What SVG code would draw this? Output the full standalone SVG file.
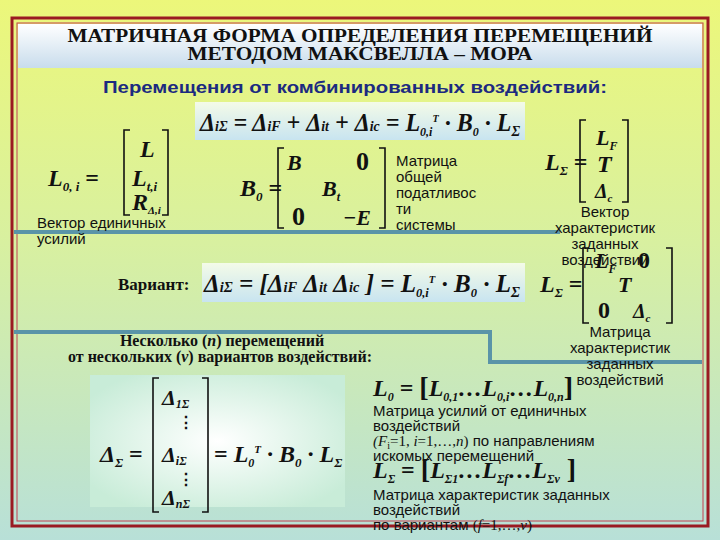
<svg xmlns="http://www.w3.org/2000/svg" width="720" height="540" viewBox="0 0 720 540">
<defs>
<linearGradient id="bg" x1="0" y1="0" x2="0" y2="1"><stop offset="0" stop-color="#ecf77a"/><stop offset="0.45" stop-color="#d8f0a0"/><stop offset="1" stop-color="#b8e0d8"/></linearGradient>
<linearGradient id="tb" x1="0" y1="0" x2="0" y2="1"><stop offset="0" stop-color="#ffffff"/><stop offset="1" stop-color="#c8dcec"/></linearGradient>
<linearGradient id="fb" x1="0" y1="0" x2="0" y2="1"><stop offset="0" stop-color="#f4fbe8"/><stop offset="1" stop-color="#c8e4f0"/></linearGradient>
<radialGradient id="fb3" cx="0.5" cy="0.5" r="0.6"><stop offset="0" stop-color="#ffffff"/><stop offset="1" stop-color="#c8ecd8"/></radialGradient>
<style>
.m{font-family:Liberation Serif,serif;font-weight:bold;font-style:italic;fill:#111}
.r{font-family:Liberation Serif,serif;font-weight:bold;fill:#111}
.s{font-family:Liberation Sans,Arial,sans-serif;font-size:15px;fill:#111}
.br{fill:none;stroke:#111;stroke-width:1.6}
.ln{fill:none;stroke:#5a94a8;stroke-width:4}
</style>
</defs>
<rect width="720" height="540" fill="url(#bg)"/>
<rect x="12" y="18" width="696" height="508" fill="none" stroke="#9a1a22" stroke-width="3"/>
<rect x="17" y="23" width="686" height="498" fill="none" stroke="#c04050" stroke-width="1"/>
<rect x="18" y="24" width="684" height="44" fill="url(#tb)"/>
<g id="title">
<text class="r" x="360" y="42" font-size="19" text-anchor="middle" textLength="585" lengthAdjust="spacingAndGlyphs">МАТРИЧНАЯ ФОРМА ОПРЕДЕЛЕНИЯ ПЕРЕМЕЩЕНИЙ</text>
<text class="r" x="360" y="60" font-size="19" text-anchor="middle" textLength="345" lengthAdjust="spacingAndGlyphs">МЕТОДОМ МАКСВЕЛЛА – МОРА</text>
<text x="355" y="93" font-family="Liberation Sans,Arial,sans-serif" font-weight="bold" font-size="16" fill="#1c2a80" text-anchor="middle" textLength="504" lengthAdjust="spacingAndGlyphs">Перемещения от комбинированных воздействий:</text>
</g>
<g id="connectors">
<path class="ln" d="M14 232 H560"/>
<path class="ln" d="M14 332 H490 V362 H702"/>
</g>
<g id="f1">
<rect x="195" y="102" width="330" height="38" fill="url(#fb)"/>
<text class="m" x="200" y="131" font-size="26" textLength="320" lengthAdjust="spacingAndGlyphs">Δ<tspan font-size="15">iΣ</tspan> = Δ<tspan font-size="15">iF</tspan> + Δ<tspan font-size="15">it</tspan> + Δ<tspan font-size="15">ic</tspan> = L<tspan font-size="13" dy="5">0,i</tspan><tspan font-size="11" dy="-14">T</tspan><tspan dy="9"> · B</tspan><tspan font-size="13" dy="5">0</tspan><tspan dy="-5"> · L</tspan><tspan font-size="15" dy="5">Σ</tspan></text>
</g>
<g id="L0i">
<text class="m" x="48" y="186" font-size="24">L<tspan font-size="13" dy="5">0, i</tspan><tspan dy="-5" font-style="normal"> =</tspan></text>
<path class="br" d="M130 130 h-6 v85 h6 M162 130 h6 v85 h-6"/>
<text class="m" x="140" y="157" font-size="24">L</text>
<text class="m" x="132" y="186" font-size="24">L<tspan font-size="13" dy="5">t,i</tspan></text>
<text class="m" x="132" y="210" font-size="24">R<tspan font-size="11" dy="4">Δ,i</tspan></text>
<text class="s" x="37" y="228">Вектор единичных</text>
<text class="s" x="37" y="244">усилий</text>
</g>
<g id="B0">
<text class="m" x="240" y="196" font-size="24">B<tspan font-size="13" dy="5">0</tspan><tspan dy="-5" font-style="normal"> =</tspan></text>
<path class="br" d="M284 148 h-6 v80 h6 M379 148 h6 v80 h-6"/>
<text class="m" x="287" y="170" font-size="22">B</text>
<text class="r" x="356" y="170" font-size="26">0</text>
<text class="m" x="322" y="196" font-size="22">B<tspan font-size="12" dy="5">t</tspan></text>
<text class="r" x="292" y="225" font-size="26">0</text>
<text class="m" x="343" y="225" font-size="22">−E</text>
<text class="s" x="396" y="166">Матрица</text>
<text class="s" x="396" y="182">общей</text>
<text class="s" x="396" y="198">податливос</text>
<text class="s" x="396" y="214">ти</text>
<text class="s" x="396" y="230">системы</text>
</g>
<g id="LS1">
<text class="m" x="545" y="170" font-size="24">L<tspan font-size="13" dy="5">Σ</tspan><tspan dy="-5" font-style="normal"> =</tspan></text>
<path class="br" d="M586 120 h-6 v82 h6 M622 120 h6 v82 h-6"/>
<text class="m" x="596" y="145" font-size="22">L<tspan font-size="12" dy="5">F</tspan></text>
<text class="m" x="597" y="172" font-size="24">T</text>
<text class="m" x="595" y="198" font-size="20">Δ<tspan font-size="11" dy="4">c</tspan></text>
<text class="s" x="605" y="217" text-anchor="middle">Вектор</text>
<text class="s" x="605" y="233" text-anchor="middle">характеристик</text>
<text class="s" x="605" y="249" text-anchor="middle">заданных</text>
<text class="s" x="605" y="265" text-anchor="middle">воздействий</text>
</g>
<g id="f2">
<text class="r" x="118" y="290" font-size="17">Вариант:</text>
<rect x="202" y="263" width="323" height="39" fill="url(#fb)"/>
<text class="m" x="204" y="292" font-size="26" textLength="316" lengthAdjust="spacingAndGlyphs">Δ<tspan font-size="15">iΣ</tspan> = [Δ<tspan font-size="15">iF</tspan> Δ<tspan font-size="15">it</tspan> Δ<tspan font-size="15">ic</tspan> ] = L<tspan font-size="13" dy="5">0,i</tspan><tspan font-size="11" dy="-14">T</tspan><tspan dy="9"> · B</tspan><tspan font-size="13" dy="5">0</tspan><tspan dy="-5"> · L</tspan><tspan font-size="15" dy="5">Σ</tspan></text>
</g>
<g id="LS2">
<text class="m" x="540" y="292" font-size="24">L<tspan font-size="13" dy="5">Σ</tspan><tspan dy="-5" font-style="normal"> =</tspan></text>
<path class="br" d="M589 248 h-6 v75 h6 M666 248 h6 v75 h-6"/>
<text class="m" x="595" y="268" font-size="22">L<tspan font-size="12" dy="5">F</tspan></text>
<text class="r" x="638" y="268" font-size="24">0</text>
<text class="m" x="618" y="292" font-size="22">T</text>
<text class="r" x="598" y="318" font-size="24">0</text>
<text class="m" x="633" y="318" font-size="20">Δ<tspan font-size="11" dy="4">c</tspan></text>
<text class="s" x="620" y="337" text-anchor="middle">Матрица</text>
<text class="s" x="620" y="353" text-anchor="middle">характеристик</text>
<text class="s" x="620" y="369" text-anchor="middle">заданных</text>
<text class="s" x="620" y="385" text-anchor="middle">воздействий</text>
</g>
<g id="multi">
<text class="r" x="222" y="346" font-size="16" text-anchor="middle">Несколько (<tspan font-style="italic">n</tspan>) перемещений</text>
<text class="r" x="220" y="362" font-size="16" text-anchor="middle">от нескольких (<tspan font-style="italic">v</tspan>) вариантов воздействий:</text>
<rect x="90" y="375" width="255" height="132" fill="url(#fb3)"/>
<text class="m" x="100" y="462" font-size="24">Δ<tspan font-size="13" dy="5">Σ</tspan><tspan dy="-5" font-style="normal"> =</tspan></text>
<path class="br" d="M159 378 h-6 v134 h6 M202 378 h6 v134 h-6"/>
<text class="m" x="162" y="405" font-size="22">Δ<tspan font-size="12" dy="3">1Σ</tspan></text>
<text class="r" x="178" y="428" font-size="16">⋮</text>
<text class="m" x="162" y="462" font-size="22">Δ<tspan font-size="12" dy="3">iΣ</tspan></text>
<text class="r" x="178" y="485" font-size="16">⋮</text>
<text class="m" x="162" y="505" font-size="22">Δ<tspan font-size="12" dy="3">nΣ</tspan></text>
<text class="m" x="214" y="462" font-size="24"><tspan font-style="normal">= </tspan>L<tspan font-size="12" dy="5">0</tspan><tspan font-size="11" dy="-14">T</tspan><tspan dy="9"> · B</tspan><tspan font-size="13" dy="5">0</tspan><tspan dy="-5"> · L</tspan><tspan font-size="13" dy="5">Σ</tspan></text>
</g>
<g id="L0">
<text class="m" x="373" y="396" font-size="24">L<tspan font-size="12" dy="5">0</tspan><tspan dy="-5" font-style="normal"> = </tspan><tspan font-style="normal" font-size="28">[</tspan>L<tspan font-size="12" dy="5">0,1</tspan><tspan dy="-5">…L</tspan><tspan font-size="12" dy="5">0,i</tspan><tspan dy="-5">…L</tspan><tspan font-size="12" dy="5">0,n</tspan><tspan dy="-5" font-style="normal" font-size="28">]</tspan></text>
<text class="s" x="373" y="416">Матрица усилий от единичных</text>
<text class="s" x="373" y="431">воздействий</text>
<text class="s" x="373" y="446"><tspan font-family="Liberation Serif,serif" font-style="italic">(F</tspan><tspan font-family="Liberation Serif,serif" font-size="10" dy="3">i</tspan><tspan font-family="Liberation Serif,serif" dy="-3">=1, <tspan font-style="italic">i</tspan>=1,…,<tspan font-style="italic">n</tspan>)</tspan> по направлениям</text>
<text class="s" x="373" y="461">искомых перемещений</text>
<text class="m" x="373" y="478" font-size="24">L<tspan font-size="12" dy="5">Σ</tspan><tspan dy="-5" font-style="normal"> = </tspan><tspan font-style="normal" font-size="28">[</tspan>L<tspan font-size="12" dy="5">Σ1</tspan><tspan dy="-5">…L</tspan><tspan font-size="12" dy="5">Σf</tspan><tspan dy="-5">…L</tspan><tspan font-size="12" dy="5">Σv</tspan><tspan dy="-5" font-style="normal" font-size="28"> ]</tspan></text>
<text class="s" x="373" y="500">Матрица характеристик заданных</text>
<text class="s" x="373" y="515">воздействий</text>
<text class="s" x="373" y="530">по вариантам <tspan font-family="Liberation Serif,serif">(<tspan font-style="italic">f</tspan>=1,…,<tspan font-style="italic">v</tspan>)</tspan></text>
</g>
</svg>
